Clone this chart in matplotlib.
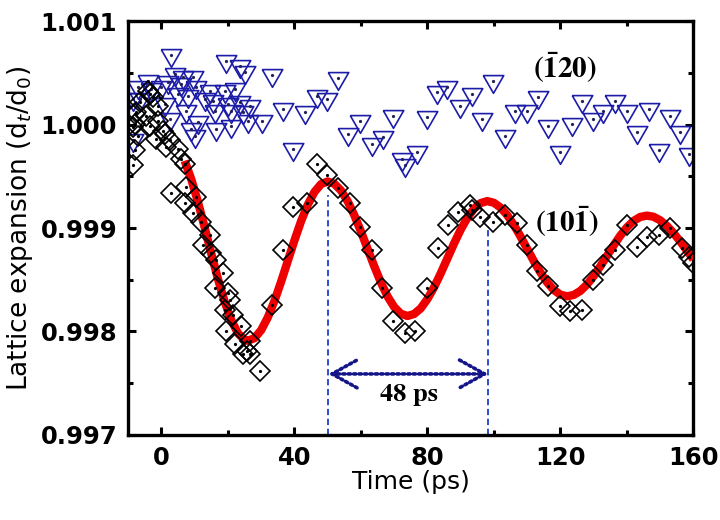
import matplotlib
matplotlib.use("Agg")
import matplotlib.pyplot as plt
from matplotlib.ticker import MultipleLocator, FormatStrFormatter
from matplotlib.patches import FancyArrowPatch

# (10-1) reflection, black diamonds
t_101 = [-8.55, -8.55, -8.04, -8.04, -8.04, -7.53, -7.05, -6.53, -4.52, -4.13,
         -3.52, -3.52, -2.62, -1.51, -1.02, -1.02, 0.48, 0.99, 1.51, 2.50,
         3.01, 5.00, 6.02, 7.02, 7.53, 7.02, 9.51, 10.54, 12.04, 12.53,
         14.54, 15.05, 16.05, 16.56, 18.55, 19.06, 19.57, 20.05, 20.57, 21.56,
         22.07, 24.09, 24.57, 25.60, 26.59, 26.59, 29.60, 33.12, 36.61, 39.62,
         43.66, 46.67, 49.68, 53.17, 56.70, 59.71, 63.23, 66.24, 69.74, 73.26,
         76.27, 79.79, 83.28, 86.30, 89.31, 92.83, 93.34, 95.85, 99.86, 103.37,
         106.89, 109.90, 112.90, 116.40, 119.93, 122.94, 126.46, 129.96, 132.97, 136.50,
         140.01, 143.02, 146.03, 149.55, 153.07, 156.58, 158.56, 159.80]
y_101 = [0.999606, 0.999974, 1.000106, 1.000007, 0.999750, 1.000118, 0.999894, 1.000214, 1.000087, 1.000327,
         1.000295, 0.999990, 1.000262, 0.999863, 1.000183, 1.000038, 0.999942, 0.999911, 0.999782, 0.999846,
         0.999334, 0.999766, 0.999670, 0.999622, 0.999397, 0.999238, 0.999141, 0.999301, 0.999061, 0.998837,
         0.998933, 0.998757, 0.998420, 0.998692, 0.998564, 0.998212, 0.998003, 0.998372, 0.998308, 0.998164,
         0.997875, 0.998051, 0.997779, 0.997808, 0.997907, 0.997779, 0.997618, 0.998260, 0.998788, 0.999205,
         0.999238, 0.999622, 0.999510, 0.999382, 0.999238, 0.999013, 0.998788, 0.998420, 0.998099, 0.997988,
         0.998003, 0.998420, 0.998805, 0.999029, 0.999157, 0.999221, 0.999173, 0.999109, 0.999061, 0.999125,
         0.999045, 0.998837, 0.998580, 0.998435, 0.998243, 0.998195, 0.998212, 0.998500, 0.998644, 0.998788,
         0.999029, 0.998820, 0.998916, 0.998933, 0.998997, 0.998805, 0.998724, 0.998660]

# (-120) reflection, blue triangles
t_120 = [-8.55, -8.55, -7.05, -6.53, -4.03, -3.01, 0.00, 0.99, 1.99, 2.50,
         3.01, 4.00, 5.00, 6.02, 6.50, 7.53, 8.01, 9.03, 9.51, 10.03,
         10.54, 11.02, 13.04, 14.54, 15.54, 16.05, 16.56, 19.06, 19.57, 20.05,
         21.08, 21.08, 22.07, 23.58, 23.58, 24.57, 25.08, 26.08, 26.59, 30.11,
         33.12, 36.61, 39.62, 43.15, 46.67, 49.68, 53.17, 56.19, 59.71, 63.23,
         66.72, 69.74, 72.26, 73.26, 76.78, 79.79, 82.80, 85.81, 89.82, 93.34,
         96.35, 99.84, 103.37, 106.38, 109.90, 113.40, 116.40, 119.93, 123.45, 126.46,
         129.96, 132.97, 136.49, 140.01, 143.02, 146.52, 149.55, 153.07, 156.08, 158.58]
y_120 = [0.999846, 1.000250, 1.000359, 1.000247, 1.000423, 1.000343, 1.000359, 1.000199, 1.000407, 1.000055,
         1.000673, 1.000487, 1.000295, 1.000391, 1.000462, 1.000135, 1.000279, 0.999959, 1.000455, 0.999894,
         1.000359, 1.000022, 1.000247, 1.000327, 1.000231, 1.000135, 0.999959, 1.000327, 1.000615, 1.000199,
         1.000135, 0.999990, 1.000343, 1.000567, 1.000214, 1.000118, 1.000503, 1.000038, 1.000183, 1.000038,
         1.000481, 1.000151, 0.999766, 1.000118, 1.000279, 1.000247, 1.000445, 0.999911, 1.000031, 0.999814,
         0.999878, 1.000087, 0.999670, 0.999606, 0.999734, 1.000070, 1.000311, 1.000359, 1.000183, 1.000295,
         1.000055, 1.000423, 0.999894, 1.000135, 1.000135, 1.000262, 0.999990, 0.999734, 1.000007, 1.000231,
         1.000055, 1.000135, 1.000231, 1.000135, 0.999926, 1.000151, 0.999750, 1.000087, 0.999926, 0.999718]

# damped oscillation fit
t_fit = [7, 9, 11, 13, 15, 17, 19, 21, 23, 25, 26, 28, 30, 32, 34, 36, 38, 40, 42, 44,
         46, 48, 50, 52, 54, 56, 58, 60, 62, 64, 66, 68, 70, 72, 74, 76, 78, 80, 82, 84,
         86, 88, 90, 92, 94, 96, 98, 100, 102, 104, 106, 108, 110, 112, 114, 116, 118, 120, 122, 124,
         126, 128, 130, 132, 134, 136, 138, 140, 142, 144, 146, 148, 150, 152, 154, 156, 158, 160]
y_fit = [0.999650, 0.999470, 0.999251, 0.999007, 0.998753, 0.998509, 0.998290, 0.998110, 0.997984, 0.997918,
         0.997910, 0.997936, 0.998013, 0.998136, 0.998295, 0.998481, 0.998680, 0.998879, 0.999065, 0.999224,
         0.999347, 0.999424, 0.999450, 0.999428, 0.999363, 0.999260, 0.999125, 0.998968, 0.998800, 0.998632,
         0.998475, 0.998340, 0.998237, 0.998172, 0.998150, 0.998169, 0.998224, 0.998313, 0.998427, 0.998561,
         0.998705, 0.998849, 0.998983, 0.999097, 0.999186, 0.999241, 0.999260, 0.999244, 0.999198, 0.999125,
         0.999030, 0.998919, 0.998800, 0.998681, 0.998570, 0.998475, 0.998402, 0.998356, 0.998340, 0.998353,
         0.998392, 0.998454, 0.998535, 0.998629, 0.998730, 0.998831, 0.998925, 0.999006, 0.999068, 0.999107,
         0.999120, 0.999109, 0.999075, 0.999022, 0.998953, 0.998872, 0.998785, 0.998698]

peak_t = [50.2, 98.3]
peak_y = [0.99932, 0.99902]
period_label = "48 ps"

fig = plt.figure(figsize=(7.2, 5.2), dpi=100)
ax = fig.add_axes([0.178, 0.1635, 0.785, 0.796])

tri = [(-1, 0.577), (1, 0.577), (0, -1.155), (-1, 0.577)]
ax.plot(t_120, y_120, linestyle="none", marker=tri, ms=17, mfc="none",
        mec="#1c1ca8", mew=1.2, zorder=2)
ax.plot(t_120, y_120, linestyle="none", marker="o", ms=1.3, color="#222255", zorder=2)

ax.plot(t_fit, y_fit, color="#ee0000", lw=6, solid_capstyle="butt", zorder=3)

ax.plot(t_101, y_101, linestyle="none", marker="D", ms=10.5, mfc="none",
        mec="black", mew=1.2, zorder=4)
ax.plot(t_101, y_101, linestyle="none", marker="o", ms=1.3, color="black", zorder=4)

for tp, yp in zip(peak_t, peak_y):
    ax.plot([tp, tp], [0.997, yp], color="#1f3fd0", lw=1.3, dashes=(3.5, 2), zorder=1)

arr = FancyArrowPatch((peak_t[0], 0.99759), (peak_t[1], 0.99759),
                      arrowstyle="<->,head_length=18,head_width=10",
                      color="#15158a", lw=2.6, linestyle=(0, (0.6, 0.9)),
                      shrinkA=0, shrinkB=0, zorder=5)
ax.add_patch(arr)
ax.text(74.5, 0.99739, period_label, ha="center", va="center", fontsize=19,
        fontfamily="STIXGeneral", fontweight="bold")

ax.text(121.5, 1.00055, r"$\mathbf{(\bar{1}20)}$", ha="center", va="center",
        fontsize=21, math_fontfamily="stix")
ax.text(122, 0.99906, r"$\mathbf{(10\bar{1})}$", ha="center", va="center",
        fontsize=21, math_fontfamily="stix")

ax.set_xlim(-10, 160)
ax.set_ylim(0.997, 1.001)
ax.xaxis.set_major_locator(MultipleLocator(40))
ax.xaxis.set_minor_locator(MultipleLocator(20))
ax.yaxis.set_major_locator(MultipleLocator(0.001))
ax.yaxis.set_minor_locator(MultipleLocator(0.0005))
ax.yaxis.set_major_formatter(FormatStrFormatter("%.3f"))

ax.tick_params(which="both", direction="in", top=True, right=True, width=2.2)
ax.tick_params(which="major", length=6, labelsize=17.5, pad=8)
ax.tick_params(which="minor", length=3.5)
for lab in ax.get_xticklabels() + ax.get_yticklabels():
    lab.set_fontweight("bold")
for sp in ax.spines.values():
    sp.set_linewidth(2.4)

ax.set_xlabel("Time (ps)", fontsize=18, labelpad=0)
ax.set_ylabel("Lattice expansion (d$_t$/d$_0$)", fontsize=19, labelpad=4)

fig.savefig("out.png", dpi=100)
